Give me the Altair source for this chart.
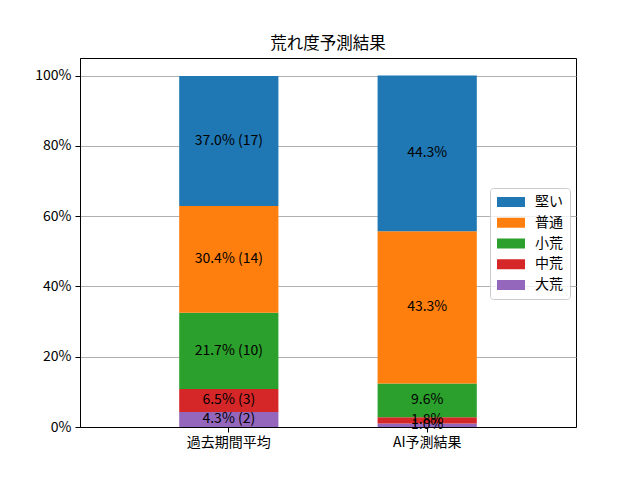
import altair as alt
import pandas as pd

categories = ["過去期間平均", "AI予測結果"]
levels_bottom_up = ["大荒", "中荒", "小荒", "普通", "堅い"]
legend_order = ["堅い", "普通", "小荒", "中荒", "大荒"]
legend_colors = ["#1f77b4", "#ff7f0e", "#2ca02c", "#d62728", "#9467bd"]

past_pct = [4.3, 6.5, 21.7, 30.4, 37.0]
past_cnt = [2, 3, 10, 14, 17]
ai_pct = [1.0, 1.8, 9.6, 43.3, 44.3]

rows = []
for i, lv in enumerate(levels_bottom_up):
    rows.append({"cat": categories[0], "level": lv, "ord": i,
                 "value": past_pct[i] / 100.0,
                 "label": f"{past_pct[i]:.1f}% ({past_cnt[i]})"})
for i, lv in enumerate(levels_bottom_up):
    rows.append({"cat": categories[1], "level": lv, "ord": i,
                 "value": ai_pct[i] / 100.0,
                 "label": f"{ai_pct[i]:.1f}%"})
df = pd.DataFrame(rows)

FONT = "Noto Sans CJK JP"
FS = 14

xenc = alt.X("cat:N", sort=categories,
             scale=alt.Scale(paddingInner=0.5, paddingOuter=0.5),
             axis=alt.Axis(title=None, labelAngle=0, labelFontSize=FS,
                           labelColor="black", domainColor="black",
                           tickColor="black", tickSize=5, labelPadding=3,
                           grid=False, labelFont=FONT))
yscale = alt.Scale(domain=[0, 1.05], nice=False, zero=True)

bars = alt.Chart(df).mark_bar().encode(
    x=xenc,
    y=alt.Y("value:Q", stack="zero", scale=yscale,
            axis=alt.Axis(title=None, format=".0%",
                          values=[0, 0.2, 0.4, 0.6, 0.8, 1.0],
                          labelFontSize=FS, labelColor="black",
                          domainColor="black", tickColor="black",
                          tickSize=5, labelPadding=4, grid=True,
                          gridColor="#b0b0b0", gridWidth=1, labelFont=FONT)),
    color=alt.Color("level:N",
                    scale=alt.Scale(domain=legend_order, range=legend_colors),
                    legend=alt.Legend(title=None, orient="none",
                                      legendX=410, legendY=130,
                                      labelFontSize=FS, labelColor="black",
                                      labelFont=FONT,
                                      symbolType="M-1,-0.357L1,-0.357L1,0.357L-1,0.357Z",
                                      symbolSize=784, symbolStrokeWidth=0,
                                      symbolOpacity=1,
                                      clipHeight=14, rowPadding=6.75,
                                      padding=7, labelOffset=10,
                                      strokeColor="#cccccc",
                                      fillColor="rgba(255,255,255,0.8)",
                                      cornerRadius=3)),
    order=alt.Order("ord:Q", sort="ascending"),
)

texts = alt.Chart(df).transform_stack(
    stack="value", groupby=["cat"], as_=["y0", "y1"],
    sort=[alt.SortField("ord", order="ascending")]
).transform_calculate(
    mid="(datum.y0 + datum.y1) / 2"
).mark_text(fontSize=FS, color="black", font=FONT).encode(
    x=alt.X("cat:N", sort=categories),
    y=alt.Y("mid:Q", scale=yscale),
    text="label:N",
)

chart = alt.layer(bars, texts).properties(
    width=496, height=369,
    title=alt.TitleParams("荒れ度予測結果", fontSize=16.5, fontWeight="normal",
                          font=FONT, color="black", offset=6),
    autosize=alt.AutoSizeParams(type="none"),
    padding={"left": 72, "top": 50, "right": 20, "bottom": 40},
).configure(font=FONT).configure_view(stroke="black", strokeWidth=1)

chart.save("out.html", embed_options={"renderer": "svg", "actions": False})
